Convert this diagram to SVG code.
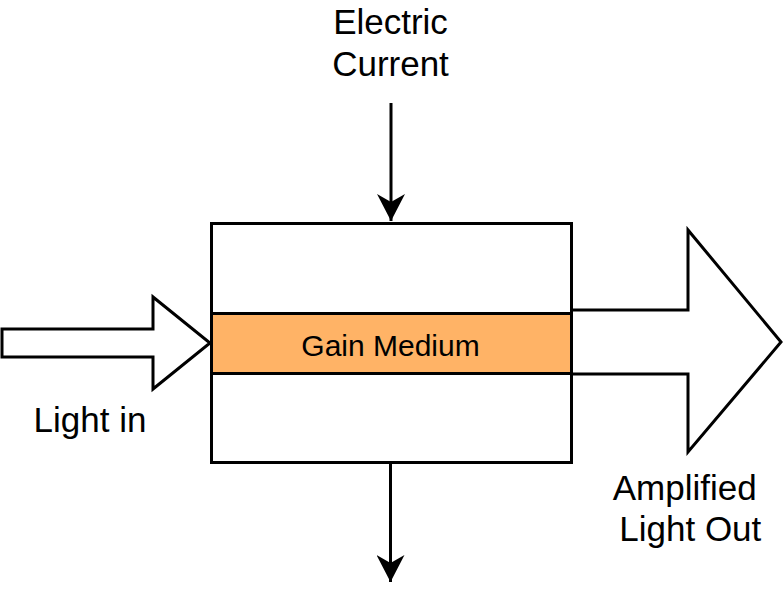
<svg xmlns="http://www.w3.org/2000/svg" width="783" height="609" viewBox="0 0 783 609">
  <style>
    .lbl { font-family: "Liberation Sans", Arial, sans-serif; font-size: 35px; fill: #000; }
    .gain { font-family: "Liberation Sans", Arial, sans-serif; font-size: 30px; fill: #000; }
    .shape { fill: #fff; stroke: #000; stroke-width: 3; stroke-linejoin: miter; }
    .conn { stroke: #000; stroke-width: 3; fill: none; }
  </style>
  <defs>
    <marker id="arrow" markerUnits="userSpaceOnUse" viewBox="0 0 28 28" refX="27" refY="14" markerWidth="28" markerHeight="28" orient="auto">
      <path d="M0,0 L27,14 L0,28 L8,14 Z" fill="#000"/>
    </marker>
  </defs>
  <rect width="783" height="609" fill="#fff"/>

  <g id="amplified-arrow">
    <polygon class="shape" points="571,310 688,310 688,230 781,342 688,452 688,374 571,374"/>
  </g>

  <g id="device">
    <rect class="shape" x="211.5" y="223.5" width="360" height="239"/>
  </g>

  <g id="gain-medium">
    <rect x="211.5" y="313.5" width="360" height="60" fill="#FFB366" stroke="#000" stroke-width="3"/>
    <text class="gain" x="390.5" y="356" text-anchor="middle">Gain Medium</text>
  </g>

  <g id="light-in-arrow">
    <polygon class="shape" points="2,329 153,329 153,297 210,343 153,389 153,357 2,357"/>
  </g>

  <g id="connectors">
    <line class="conn" x1="391" y1="103" x2="391" y2="221" marker-end="url(#arrow)"/>
    <line class="conn" x1="390.5" y1="464" x2="390.5" y2="582" marker-end="url(#arrow)"/>
  </g>

  <g id="electric-current-label">
    <text class="lbl" x="390.5" y="34" text-anchor="middle">Electric</text>
    <text class="lbl" x="390.5" y="76" text-anchor="middle">Current</text>
  </g>

  <g id="light-in-label">
    <text class="lbl" x="90" y="432" text-anchor="middle">Light in</text>
  </g>

  <g id="amplified-label">
    <text class="lbl" x="684.7" y="500" text-anchor="middle">Amplified</text>
    <text class="lbl" x="690.3" y="541" text-anchor="middle">Light Out</text>
  </g>
</svg>
